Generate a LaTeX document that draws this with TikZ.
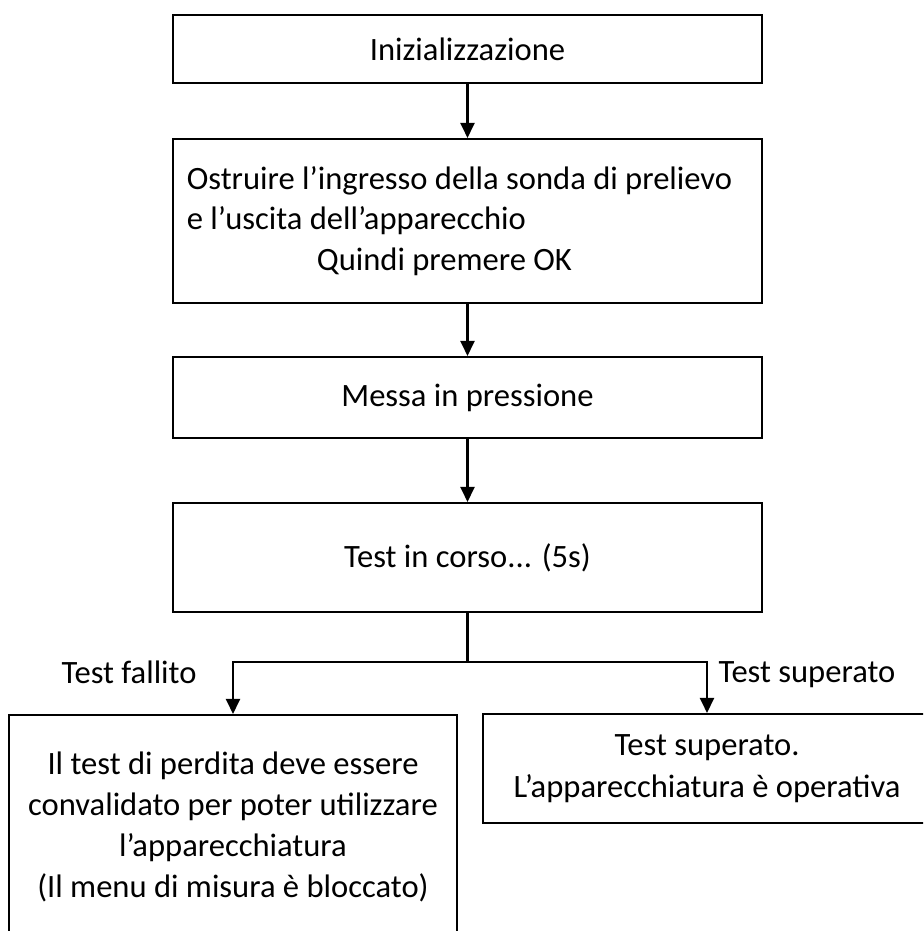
\documentclass[tikz,border=0pt]{standalone}
\usepackage{fontspec}
\setmainfont{Carlito}
\usetikzlibrary{arrows.meta,positioning}
\newdimen\pxu
\pxu=0.3929pt
\tikzset{
  box/.style={draw, rectangle, line width=0.8pt, inner sep=0pt, align=center,
    font=\fontsize{12.8pt}{16pt}\selectfont},
  lbl/.style={inner sep=0pt, font=\fontsize{12.8pt}{16pt}\selectfont},
  link/.style={line width=0.8pt},
  arr/.style={line width=0.8pt, -{Triangle[length=5.9pt,width=5.5pt]}},
}

\begin{document}
\begin{tikzpicture}[x=0.3929pt, y=-0.3929pt]
\useasboundingbox (0,0) rectangle (923,931);
\clip (0,0) rectangle (923,931);
% Steps
\node[box, minimum width=589\pxu, minimum height=68\pxu] (init) at (467.5,49) {Inizializzazione};
\node[box, align=left, minimum width=589\pxu, minimum height=164\pxu] (ostr) at (467.5,221)
  {Ostruire l’ingresso della sonda di prelievo\hspace*{16\pxu}\\
   e l’uscita dell’apparecchio\\
   \hspace*{130\pxu}Quindi premere OK};
\node[box, minimum width=589\pxu, minimum height=81\pxu] (press) at (467.5,397.5) {Messa in pressione};
\node[box, minimum width=589\pxu, minimum height=109\pxu] (testrun) at (467.5,557.5) {Test in corso... (5s)};
% Outcomes (cut by the page edge)
\node[box, minimum width=448\pxu, minimum height=224\pxu] (fail) at (233,827)
  {Il test di perdita deve essere\\
   convalidato per poter utilizzare\\
   l’apparecchiatura\\
   (Il menu di misura è bloccato)};
\node[box, minimum width=448\pxu, minimum height=109\pxu,
      font=\fontsize{12.8pt}{16.6pt}\selectfont] (pass) at (707,768.5)
  {Test superato.\\
   L’apparecchiatura è operativa};
% Arrows
\draw[arr] (init) -- (ostr);
\draw[arr] (ostr) -- (press);
\draw[arr] (press) -- (testrun);
\coordinate (split) at (467.5,662);
\draw[link] (testrun) -- (split);
\draw[arr] (split) -| (fail);
\draw[arr] (split) -| (pass);
% Branch labels
\node[lbl, anchor=base east] (failtxt) at (197,683) {Test fallito};
\node[lbl, anchor=base west] (passtxt) at (718,682) {Test superato};
\end{tikzpicture}
\end{document}
